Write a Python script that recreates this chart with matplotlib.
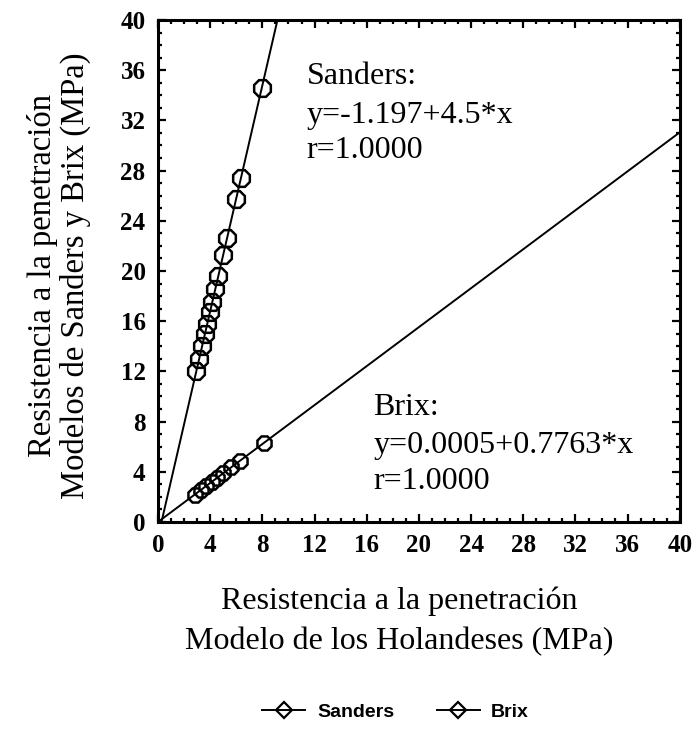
import matplotlib
matplotlib.use("Agg")
import matplotlib.pyplot as plt
from matplotlib.ticker import MultipleLocator
from matplotlib.lines import Line2D
import numpy as np

plt.rcParams["font.family"] = ["Liberation Serif", "DejaVu Serif"]

# Sanders: y = -1.197 + 4.5 x
sanders_y = [12.0, 13.0, 14.0, 15.0, 15.8, 16.7, 17.5, 18.6, 19.6, 21.3, 22.6, 25.7, 27.4, 34.6]
sanders_a, sanders_b = -1.197, 4.5
# Brix: y = 0.0005 + 0.7763 x
brix_x = [2.8, 3.3, 3.7, 4.1, 4.5, 5.0, 5.6, 6.3, 8.1]
brix_a, brix_b = 0.0005, 0.7763

sanders_x = [(v - sanders_a) / sanders_b for v in sanders_y]
brix_y = [brix_a + brix_b * v for v in brix_x]

OCT = (8, 0, 22.5)  # octágono

fig = plt.figure(figsize=(6.98, 7.30), dpi=100)
ax = fig.add_axes([0.2264, 0.285, 0.7476, 0.6876])
ax.set_xlim(0, 40); ax.set_ylim(0, 40)

xs = np.array([0, 40])
ax.plot(xs, sanders_a + sanders_b * xs, color="black", lw=1.4)
ax.plot(xs, brix_a + brix_b * xs, color="black", lw=1.4)
ax.plot(sanders_x, sanders_y, ls="none", marker=OCT, ms=13, mfc="none", mec="black", mew=1.8)
ax.plot(brix_x, brix_y, ls="none", marker=OCT, ms=11, mfc="none", mec="black", mew=1.8)

ax.xaxis.set_major_locator(MultipleLocator(4)); ax.xaxis.set_minor_locator(MultipleLocator(1))
ax.yaxis.set_major_locator(MultipleLocator(4)); ax.yaxis.set_minor_locator(MultipleLocator(1))
ax.tick_params(which="both", direction="in", top=True, right=True, width=1.6)
ax.tick_params(which="major", length=6, labelsize=18, pad=9)
ax.tick_params(which="minor", length=3)
for lab in ax.get_xticklabels() + ax.get_yticklabels():
    lab.set_fontweight("bold")
for s in ax.spines.values():
    s.set_linewidth(2.2)

ax.set_xlabel("Resistencia a la penetración\nModelo de los Holandeses (MPa)", fontsize=23,
              linespacing=1.45, va="center")
ax.xaxis.set_label_coords(0.462, -0.198)
ax.set_ylabel("Resistencia a la penetración\nModelos de Sanders y Brix (MPa)", fontsize=23.5,
              linespacing=1.05, va="center")
ax.yaxis.set_label_coords(-0.19, 0.49)

tk = dict(fontsize=23, va="center", ha="left")
ax.text(11.4, 35.5, "Sanders:", **tk)
ax.text(11.4, 32.4, "y=-1.197+4.5*x", **tk)
ax.text(11.4, 29.6, "r=1.0000", **tk)
ax.text(16.5, 9.1, "Brix:", **tk)
ax.text(16.5, 6.1, "y=0.0005+0.7763*x", **tk)
ax.text(16.5, 3.2, "r=1.0000", **tk)

handles = [Line2D([], [], color="black", lw=1.4, marker="D", ms=8, mfc="none", mec="black", mew=1.6),
           Line2D([], [], color="black", lw=1.4, marker="D", ms=8, mfc="none", mec="black", mew=1.6)]
fig.legend(handles, ["Sanders", "Brix"], loc="center", bbox_to_anchor=(0.567, 0.025), ncol=2,
           frameon=False, handlelength=2.2, columnspacing=2.2, handletextpad=0.6,
           prop={"family": "Liberation Sans", "weight": "bold", "size": 14})

fig.savefig("out.png", dpi=100, facecolor="white")
